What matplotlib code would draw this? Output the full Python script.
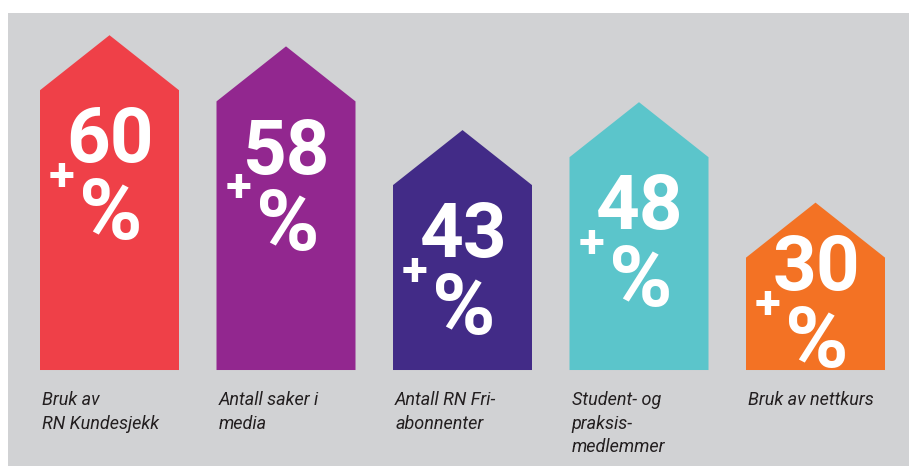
import matplotlib.pyplot as plt
from matplotlib.patches import Polygon, Rectangle

categories = [
    "Bruk av\nRN Kundesjekk",
    "Antall saker i\nmedia",
    "Antall RN Fri-\nabonnenter",
    "Student- og\npraksis-\nmedlemmer",
    "Bruk av nettkurs",
]
values = [60, 58, 43, 48, 30]
colors = ["#ef4048", "#92278f", "#422b87", "#5bc5cb", "#f37224"]

BG = "#d1d2d4"
TEXT = "#231f20"
BAR_W = 0.7875
ROOF = 9.86


def main() -> None:
    fig = plt.figure(figsize=(9.09, 4.66), dpi=100)
    fig.patch.set_facecolor("white")
    fig.patches.append(Rectangle((8 / 909, 0), 1, 1 - 13 / 466, transform=fig.transFigure,
                                 facecolor=BG, edgecolor="none", zorder=-1))
    ax = fig.add_axes([0, 0, 1, 1])
    ax.set_zorder(1)
    ax.set_facecolor("none")
    ax.set_xlim(-0.6204, 4.5297)
    ax.set_ylim(-17.2, 66.31)
    ax.axis("off")

    for i, (label, value, color) in enumerate(zip(categories, values, colors)):
        left, right = i - BAR_W / 2, i + BAR_W / 2
        pts = [(left, 0), (left, value - ROOF), (i, value), (right, value - ROOF), (right, 0)]
        ax.add_patch(Polygon(pts, closed=True, facecolor=color, edgecolor="none"))

        # number block sits ~23 units under the peak, pushed up on short bars
        base = max(value - 22.8, 14.3)
        ax.text(i + 0.005, base, str(value), ha="center", va="baseline", color="white",
                fontsize=55, fontweight="bold", family="Roboto")
        ax.text(i + 0.01, base - 13.7, "%", ha="center", va="baseline", color="white",
                fontsize=62, fontweight="bold", family="Roboto")
        ax.text(i - 0.27, base - 5.0, "+", ha="center", va="baseline", color="white",
                fontsize=34, fontweight="bold", family="Roboto")

        ax.text(left + 0.012, -3.8, label, ha="left", va="top", color=TEXT,
                fontsize=13, fontstyle="italic", family="Roboto", linespacing=1.38)

    fig.savefig("out.png", dpi=100, facecolor=fig.get_facecolor())
    plt.close(fig)


if __name__ == "__main__":
    main()
